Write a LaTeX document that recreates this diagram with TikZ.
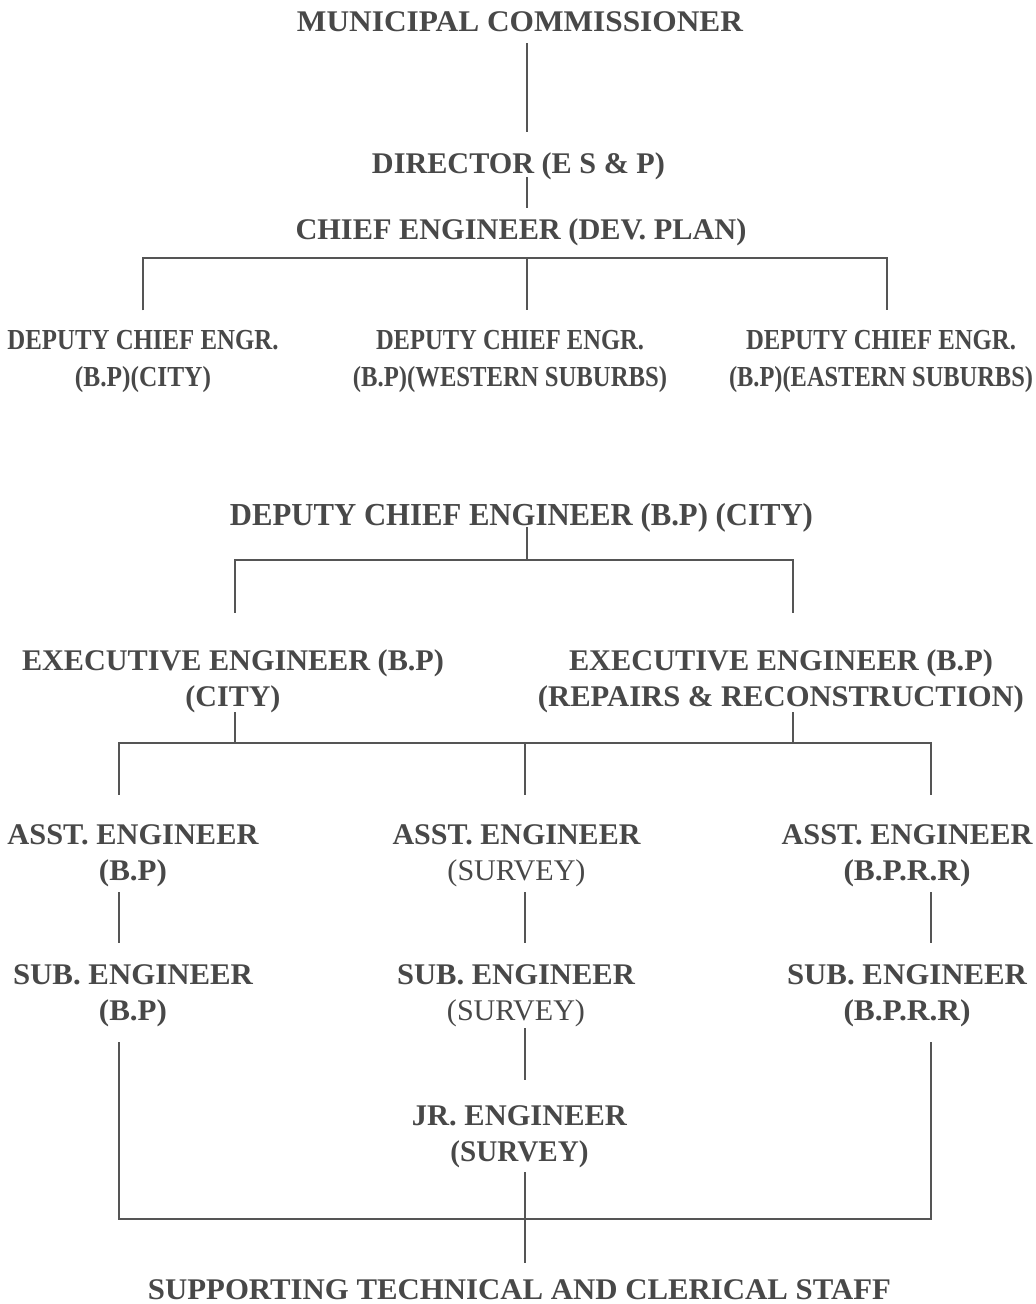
\documentclass[tikz,border=0pt]{standalone}
\usepackage{fontspec}
\usepackage{graphicx}
\setmainfont{Liberation Serif}
\usetikzlibrary{calc}
\definecolor{txt}{RGB}{72,72,72}
\definecolor{lng}{RGB}{85,85,85}
\newcommand{\fitw}[2]{\resizebox{#1pt}{\height}{#2}}
\begin{document}
\begin{tikzpicture}[x=1pt,y=-1pt,
  lab/.style={inner sep=0pt, outer sep=0pt, align=center, text=txt, font=\fontsize{30}{36}\selectfont\bfseries},
  labs/.style={lab, font=\fontsize{29}{37}\selectfont\bfseries},
  labl/.style={lab, font=\fontsize{32}{36}\selectfont\bfseries},
  conn/.style={draw=lng, line width=1.9pt}]
\fill[white] (0,0) rectangle (1036,1304);
\useasboundingbox (0,0) rectangle (1036,1304);

% ---------- top chart ----------
\node[lab] (mc) at (520,22) {\fitw{446}{MUNICIPAL COMMISSIONER}};
\node[lab] (dir) at (518.5,166.7) {\fitw{293}{DIRECTOR (E S \& P)}};
\node[lab] (ce) at (521,232.7) {\fitw{451}{CHIEF ENGINEER (DEV. PLAN)}};
\node[labs] (d1) at (143,361) {\fitw{271}{DEPUTY CHIEF ENGR.}\\\fitw{136}{(B.P)(CITY)}};
\node[labs] (d2) at (510,361) {\fitw{268}{DEPUTY CHIEF ENGR.}\\\fitw{314}{(B.P)(WESTERN SUBURBS)}};
\node[labs] (d3) at (881,361) {\fitw{270}{DEPUTY CHIEF ENGR.}\\\fitw{304}{(B.P)(EASTERN SUBURBS)}};

\draw[conn] ($(mc.south)+(7,11)$) -- ($(dir.north)+(8.5,-21.2)$);
\draw[conn] ($(dir.south)+(8.5,-3.2)$) -- ($(ce.north)+(6,-11.2)$);
\coordinate (b1m) at (527,258);
\draw[conn] ($(d1.north)+(0,-19.5)$) |- (b1m) -| ($(d3.north)+(6,-19.5)$);
\draw[conn] (b1m) -- ($(d2.north)+(17,-19.5)$);

% ---------- lower chart ----------
\node[labl] (dce) at (521.5,517.8) {\fitw{583}{DEPUTY CHIEF ENGINEER (B.P) (CITY)}};
\node[lab] (ee1) at (233,681.2) {\fitw{422}{EXECUTIVE ENGINEER (B.P)}\\\fitw{95}{(CITY)}};
\node[lab] (ee2) at (781,681.2) {\fitw{424}{EXECUTIVE ENGINEER (B.P)}\\\fitw{486}{(REPAIRS \& RECONSTRUCTION)}};

\node[lab] (a1) at (133,855.5) {\fitw{251}{ASST. ENGINEER}\\\fitw{68}{(B.P)}};
\node[lab] (a2) at (516.5,855.5) {\fitw{248}{ASST. ENGINEER}\\\fitw{138}{\mdseries(SURVEY)}};
\node[lab] (a3) at (907,855.5) {\fitw{251}{ASST. ENGINEER}\\\fitw{127}{(B.P.R.R)}};

\node[lab] (s1) at (133,996) {\fitw{240}{SUB. ENGINEER}\\\fitw{68}{(B.P)}};
\node[lab] (s2) at (516,996) {\fitw{238}{SUB. ENGINEER}\\\fitw{138}{\mdseries(SURVEY)}};
\node[lab] (s3) at (907,996) {\fitw{240}{SUB. ENGINEER}\\\fitw{127}{(B.P.R.R)}};

\node[lab] (jr) at (519.5,1137) {\fitw{215}{JR. ENGINEER}\\\fitw{138}{(SURVEY)}};
\node[lab] (supp) at (519.5,1290) {\fitw{743}{SUPPORTING TECHNICAL AND CLERICAL STAFF}};

% DCE -> executives
\coordinate (b2m) at (527,560);
\draw[conn] ($(dce.south)+(5.5,-5.2)$) -- (b2m);
\draw[conn] ($(ee1.north)+(2,-36.7)$) |- (b2m) -| ($(ee2.north)+(12,-36.7)$);

% executives -> assistants
\coordinate (b3m) at (525,743);
\coordinate (e1b) at ($(ee1.south)+(2,-0.7)$);
\coordinate (e2b) at ($(ee2.south)+(12,-0.7)$);
\draw[conn] (e1b) -- (e1b |- b3m);
\draw[conn] (e2b) -- (e2b |- b3m);
\draw[conn] ($(a1.north)+(-14,-29.45)$) |- (b3m) -| ($(a3.north)+(24,-29.45)$);
\draw[conn] (b3m) -- ($(a2.north)+(8.5,-29.45)$);

% assistants -> sub engineers
\draw[conn] ($(a1.south)+(-14,5.45)$) -- ($(s1.north)+(-14,-22)$);
\draw[conn] ($(a2.south)+(8.5,5.45)$) -- ($(s2.north)+(9,-22)$);
\draw[conn] ($(a3.south)+(24,5.45)$) -- ($(s3.north)+(24,-22)$);

% survey sub -> junior
\draw[conn] ($(s2.south)+(9,1)$) -- ($(jr.north)+(5.5,-26)$);

% bottom bus -> supporting staff
\coordinate (b4m) at (525,1219);
\draw[conn] ($(s1.south)+(-14,15)$) |- (b4m) -| ($(s3.south)+(24,15)$);
\draw[conn] ($(jr.south)+(5.5,4)$) -- ($(supp.north)+(5.5,-17)$);
\end{tikzpicture}
\end{document}
